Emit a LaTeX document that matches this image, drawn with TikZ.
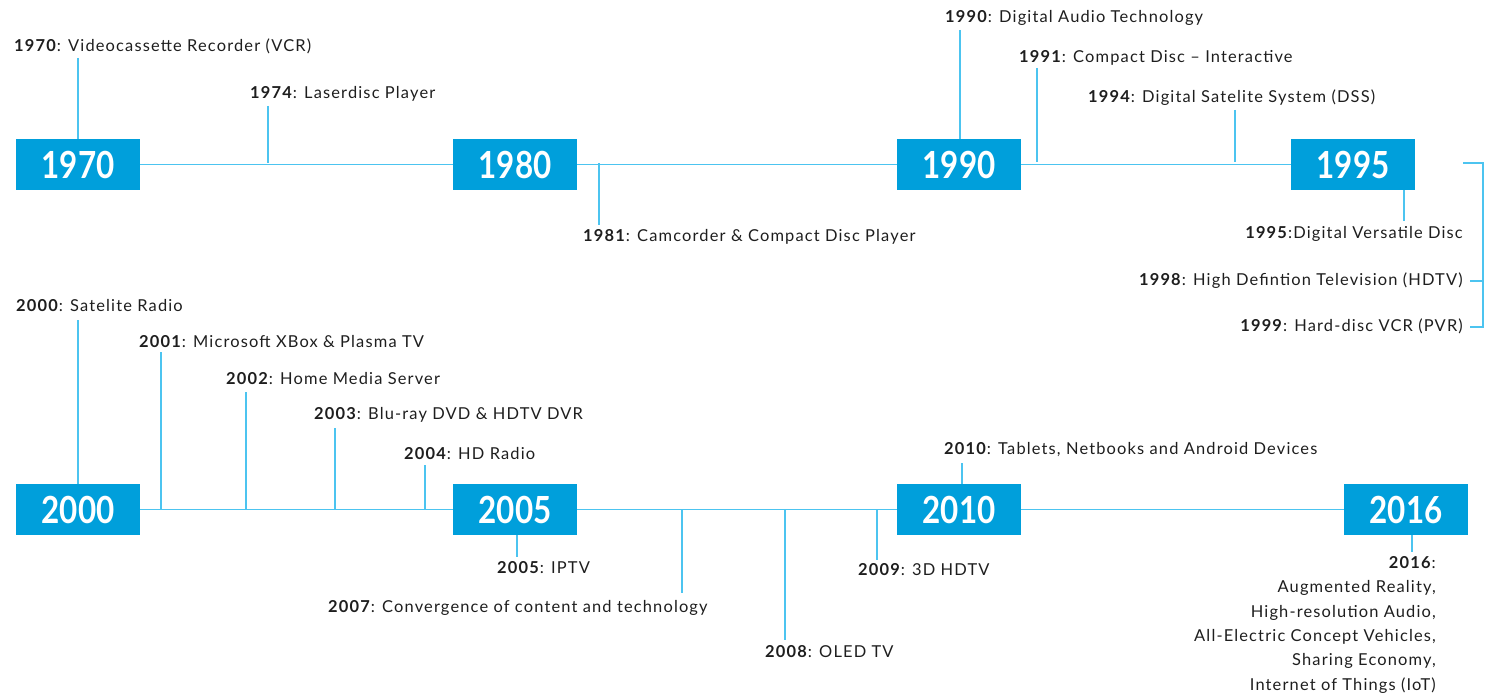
\documentclass[tikz,border=0pt]{standalone}
\usepackage{fontspec}
\usepackage{graphicx}
\setmainfont{Lato}[LetterSpace=7]
\newfontfamily\boxfont{Lato}
\newcommand\yearnum[1]{\scalebox{0.84}[1]{#1}}
\definecolor{boxblue}{HTML}{009FDB}
\definecolor{linecyan}{HTML}{4CC4F0}
\definecolor{txt}{HTML}{1E1E1E}
\begin{document}
\begin{tikzpicture}[x=1bp,y=-1bp,
  yearbox/.style={fill=boxblue,text=white,minimum width=124bp,minimum height=51bp,inner sep=0pt,font=\boxfont\fontsize{37.5}{37.5}\selectfont\bfseries},
  lab/.style={text=txt,inner sep=0pt,font=\fontsize{16.5}{19}\selectfont},
  conn/.style={draw=linecyan,line width=1.8bp}]
\useasboundingbox (0,0) rectangle (1490,698);
% year boxes
\node[yearbox] (b1970) at (78,164.5) {\yearnum{1970}};
\node[yearbox] (b1980) at (515,164.5) {\yearnum{1980}};
\node[yearbox] (b1990) at (959,164.5) {\yearnum{1990}};
\node[yearbox] (b1995) at (1353,164.5) {\yearnum{1995}};
\node[yearbox] (b2000) at (78,509.5) {\yearnum{2000}};
\node[yearbox] (b2005) at (515,509.5) {\yearnum{2005}};
\node[yearbox] (b2010) at (959,509.5) {\yearnum{2010}};
\node[yearbox] (b2016) at (1406,509.5) {\yearnum{2016}};
% main lines
\draw[conn] (b1970.east) -- (b1980.west);
\draw[conn] (b1980.east) -- (b1990.west);
\draw[conn] (b1990.east) -- (b1995.west);
\draw[conn] (b2000.east) -- (b2005.west);
\draw[conn] (b2005.east) -- (b2010.west);
\draw[conn] (b2010.east) -- (b2016.west);
% labels upper
\node[lab,anchor=west] (l1970) at (14,46) {\textbf{1970}: Videocassette Recorder (VCR)};
\node[lab,anchor=west] (l1974) at (250,94) {\textbf{1974}: Laserdisc Player};
\node[lab,anchor=west] (l1981) at (583,237) {\textbf{1981}: Camcorder \& Compact Disc Player};
\node[lab,anchor=west] (l1990) at (945,18) {\textbf{1990}: Digital Audio Technology};
\node[lab,anchor=west] (l1991) at (1019,58) {\textbf{1991}: Compact Disc -- Interactive};
\node[lab,anchor=west] (l1994) at (1088,98) {\textbf{1994}: Digital Satelite System (DSS)};
\node[lab,anchor=east] (l1995) at (1463,234) {\textbf{1995}:Digital Versatile Disc};
\node[lab,anchor=east] (l1998) at (1463,281) {\textbf{1998}: High Defintion Television (HDTV)};
\node[lab,anchor=east] (l1999) at (1463,326) {\textbf{1999}: Hard-disc VCR (PVR)};
% labels lower
\node[lab,anchor=west] (l2000) at (16,306) {\textbf{2000}: Satelite Radio};
\node[lab,anchor=west] (l2001) at (139,342) {\textbf{2001}: Microsoft XBox \& Plasma TV};
\node[lab,anchor=west] (l2002) at (226,379) {\textbf{2002}: Home Media Server};
\node[lab,anchor=west] (l2003) at (314,415) {\textbf{2003}: Blu-ray DVD \& HDTV DVR};
\node[lab,anchor=west] (l2004) at (404,454) {\textbf{2004}: HD Radio};
\node[lab,anchor=west] (l2005) at (497,568) {\textbf{2005}: IPTV};
\node[lab,anchor=west] (l2007) at (328,608) {\textbf{2007}: Convergence of content and technology};
\node[lab,anchor=west] (l2008) at (765,652) {\textbf{2008}: OLED TV};
\node[lab,anchor=west] (l2009) at (858,570) {\textbf{2009}: 3D HDTV};
\node[lab,anchor=west] (l2010) at (944,450) {\textbf{2010}: Tablets, Netbooks and Android Devices};
\node[lab,anchor=north east,align=right,font=\fontsize{16.5}{24.5}\selectfont] (l2016) at (1436,556) {\textbf{2016}:\\Augmented Reality,\\High-resolution Audio,\\All-Electric Concept Vehicles,\\Sharing Economy,\\Internet of Things (IoT)};
% tick coordinates
\coordinate (a1970) at (78,58);
\coordinate (a1974) at (268,106);
\coordinate (c1974) at (268,163);
\coordinate (c1981) at (599,163);
\coordinate (a1981) at (599,225);
\coordinate (a1990) at (960,30);
\coordinate (a1991) at (1037,68);
\coordinate (c1991) at (1037,161.5);
\coordinate (a1994) at (1235,110);
\coordinate (c1994) at (1235,161.5);
\coordinate (a1995) at (1404,221);
\coordinate (k1) at (1463,163);
\coordinate (k2) at (1483,163);
\coordinate (k3) at (1483,327);
\coordinate (k4) at (1470,327);
\coordinate (k5) at (1470,281);
\coordinate (k6) at (1483,281);
\coordinate (a2000) at (78,320);
\coordinate (a2001) at (161,352);
\coordinate (c2001) at (161,510);
\coordinate (a2002) at (246,392);
\coordinate (c2002) at (246,510);
\coordinate (a2003) at (335,428);
\coordinate (c2003) at (335,510);
\coordinate (a2004) at (425,465);
\coordinate (c2004) at (425,510);
\coordinate (a2005) at (517,557);
\coordinate (c2007) at (682,510);
\coordinate (a2007) at (682,593);
\coordinate (c2008) at (785,510);
\coordinate (a2008) at (785,640);
\coordinate (c2009) at (877,510);
\coordinate (a2009) at (877,560);
\coordinate (a2010) at (962,463);
\coordinate (a2016) at (1412,552);
% ticks
\draw[conn] (a1970) -- (a1970 |- b1970.north);
\draw[conn] (a1974) -- (c1974);
\draw[conn] (c1981) -- (a1981);
\draw[conn] (a1990) -- (a1990 |- b1990.north);
\draw[conn] (a1991) -- (c1991);
\draw[conn] (a1994) -- (c1994);
\draw[conn] (a1995 |- b1995.south) -- (a1995);
\draw[conn] (k1) -- (k2) -- (k3) -- (k4);
\draw[conn] (k5) -- (k6);
\draw[conn] (a2000) -- (a2000 |- b2000.north);
\draw[conn] (a2001) -- (c2001);
\draw[conn] (a2002) -- (c2002);
\draw[conn] (a2003) -- (c2003);
\draw[conn] (a2004) -- (c2004);
\draw[conn] (a2005 |- b2005.south) -- (a2005);
\draw[conn] (c2007) -- (a2007);
\draw[conn] (c2008) -- (a2008);
\draw[conn] (c2009) -- (a2009);
\draw[conn] (a2010) -- (a2010 |- b2010.north);
\draw[conn] (a2016 |- b2016.south) -- (a2016);
\end{tikzpicture}
\end{document}
